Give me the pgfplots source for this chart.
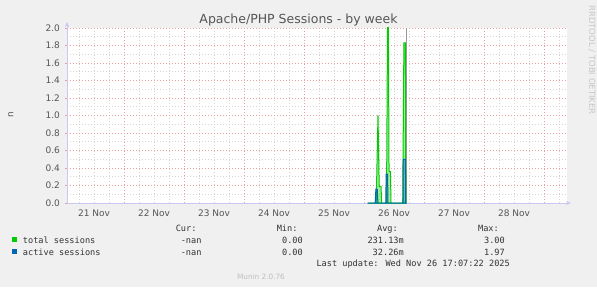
\documentclass[border=0pt]{standalone}
\usepackage{pgfplots}
\pgfplotsset{compat=1.18}
\usepackage{fontspec}
\setmainfont{DejaVu Sans}
\newfontfamily\monofont{DejaVu Sans Mono}
\usetikzlibrary{arrows.meta}
\definecolor{bg}{HTML}{F0F0F0}
\definecolor{totc}{HTML}{00CC00}
\definecolor{actc}{HTML}{0066B3}
\definecolor{txt}{HTML}{555555}
\definecolor{legtxt}{HTML}{333333}
\definecolor{mgrid}{HTML}{E8A0A0}
\definecolor{ngrid}{HTML}{D4D4D4}
\definecolor{axc}{HTML}{C8C8F0}
\definecolor{nowc}{HTML}{999999}
\begin{document}
\begin{tikzpicture}[x=1pt,y=1pt]
\fill[bg] (0,0) rectangle (597,287);
\begin{axis}[at={(67pt,84pt)}, anchor=south west, scale only axis,
  width=500pt, height=175pt,
  xmin=0.05, xmax=8.383, ymin=0, ymax=2,
  axis background/.style={fill=white},
  axis x line=bottom, axis y line=left,
  axis line style={draw=axc, line width=0.8pt},
  x axis line style={-{Stealth[length=5pt,width=4pt]}, shorten >=-4pt},
  y axis line style={-{Stealth[length=5pt,width=4pt]}, shorten >=-6pt},
  xtick={0.5,1.5,2.5,3.5,4.5,5.5,6.5,7.5},
  xticklabels={21 Nov,22 Nov,23 Nov,24 Nov,25 Nov,26 Nov,27 Nov,28 Nov},
  xtick style={draw=none},
  minor xtick={0.25,0.5,0.75,1.25,1.5,1.75,2.25,2.5,2.75,3.25,3.5,3.75,4.25,4.5,4.75,5.25,5.5,5.75,6.25,6.5,6.75,7.25,7.5,7.75,8.25},
  extra x ticks={1,2,3,4,5,6,7,8},
  extra x tick labels={},
  extra x tick style={xmajorgrids=true, tick style={draw=none}},
  xmajorgrids=false, xminorgrids=true,
  ytick={0,0.2,0.4,0.6,0.8,1.0,1.2,1.4,1.6,1.8,2.0},
  minor ytick={0.1,0.3,0.5,0.7,0.9,1.1,1.3,1.5,1.7,1.9},
  ymajorgrids=true, yminorgrids=true,
  major grid style={mgrid, dash pattern=on 1pt off 2pt, line width=0.6pt},
  minor grid style={ngrid, dash pattern=on 1pt off 2pt, line width=0.6pt},
  minor tick length=0pt,
  ytick style={draw=mgrid, line width=0.7pt},
  major tick length=2pt, tick align=outside,
  /pgf/number format/assume math mode=true,
  tick label style={font=\fontsize{9}{10}\selectfont, text=txt},
  xticklabel style={yshift=-1pt},
  yticklabel style={xshift=-1.5pt, /pgf/number format/fixed, /pgf/number format/fixed zerofill, /pgf/number format/precision=1},
  clip=true,
]
\addplot[draw=nowc, line width=0.9pt] coordinates {(5.712,0) (5.712,2)};
\addplot[draw=totc, line width=1pt, fill=totc, fill opacity=0.35, draw opacity=1] coordinates {
 (5.062,0) (5.203,0) (5.233,1.0) (5.253,0.19) (5.283,0.19) (5.295,0)
 (5.375,0) (5.400,3.0) (5.417,0.36) (5.440,0.36) (5.450,0)
 (5.645,0) (5.665,1.83) (5.690,1.83) (5.697,0) (5.712,0)} \closedcycle;
\addplot[draw=actc, line width=1pt, fill=actc, fill opacity=0.35, draw opacity=1] coordinates {
 (5.062,0) (5.186,0) (5.198,0.16) (5.220,0.16) (5.232,0)
 (5.362,0) (5.370,0.33) (5.392,0.33) (5.400,0)
 (5.650,0) (5.654,0.50) (5.690,0.50) (5.694,0) (5.712,0)} \closedcycle;
\end{axis}
% titles and labels
\node[anchor=base, text=txt, font=\fontsize{12.5}{14}\selectfont, inner sep=0] at (298.5,263) {Apache/PHP Sessions - by week};
\node[rotate=90, text=txt, font=\fontsize{9}{10}\selectfont, inner sep=0] at (10.8,172) {n};
\node[rotate=-90, anchor=west, text={rgb,255:red,200;green,200;blue,200}, font=\fontsize{8.5}{9}\selectfont, inner sep=0] at (592,282) {RRDTOOL / TOBI OETIKER};
% legend
\begin{scope}[every node/.style={inner sep=0, font=\monofont\fontsize{8.6}{10}\selectfont, text=legtxt}]
\node[anchor=base east] at (196.7,56) {Cur:};
\node[anchor=base east] at (297.7,56) {Min:};
\node[anchor=base east] at (398,56) {Avg:};
\node[anchor=base east] at (499,56) {Max:};
\fill[totc] (12.3,44.7) rectangle (17.3,49.7);
\node[anchor=base west] at (22.7,44) {total sessions};
\node[anchor=base east] at (201.7,44) {-nan};
\node[anchor=base east] at (303,44) {0.00};
\node[anchor=base east] at (404,44) {231.13m};
\node[anchor=base east] at (505,44) {3.00};
\fill[actc] (12.3,33) rectangle (17.3,38);
\node[anchor=base west] at (22.7,32) {active sessions};
\node[anchor=base east] at (201.7,32) {-nan};
\node[anchor=base east] at (303,32) {0.00};
\node[anchor=base east] at (404,32) {32.26m};
\node[anchor=base east] at (505,32) {1.97};
\node[anchor=base east] at (510,20.3) {Last update: Wed Nov 26 17:07:22 2025};
\end{scope}
\node[anchor=base, inner sep=0, text={rgb,255:red,190;green,190;blue,190}, font=\fontsize{7.3}{8}\selectfont] at (261,8) {Munin 2.0.76};
\pgfresetboundingbox
\useasboundingbox (0,0) rectangle (597,287);
\end{tikzpicture}
\end{document}
